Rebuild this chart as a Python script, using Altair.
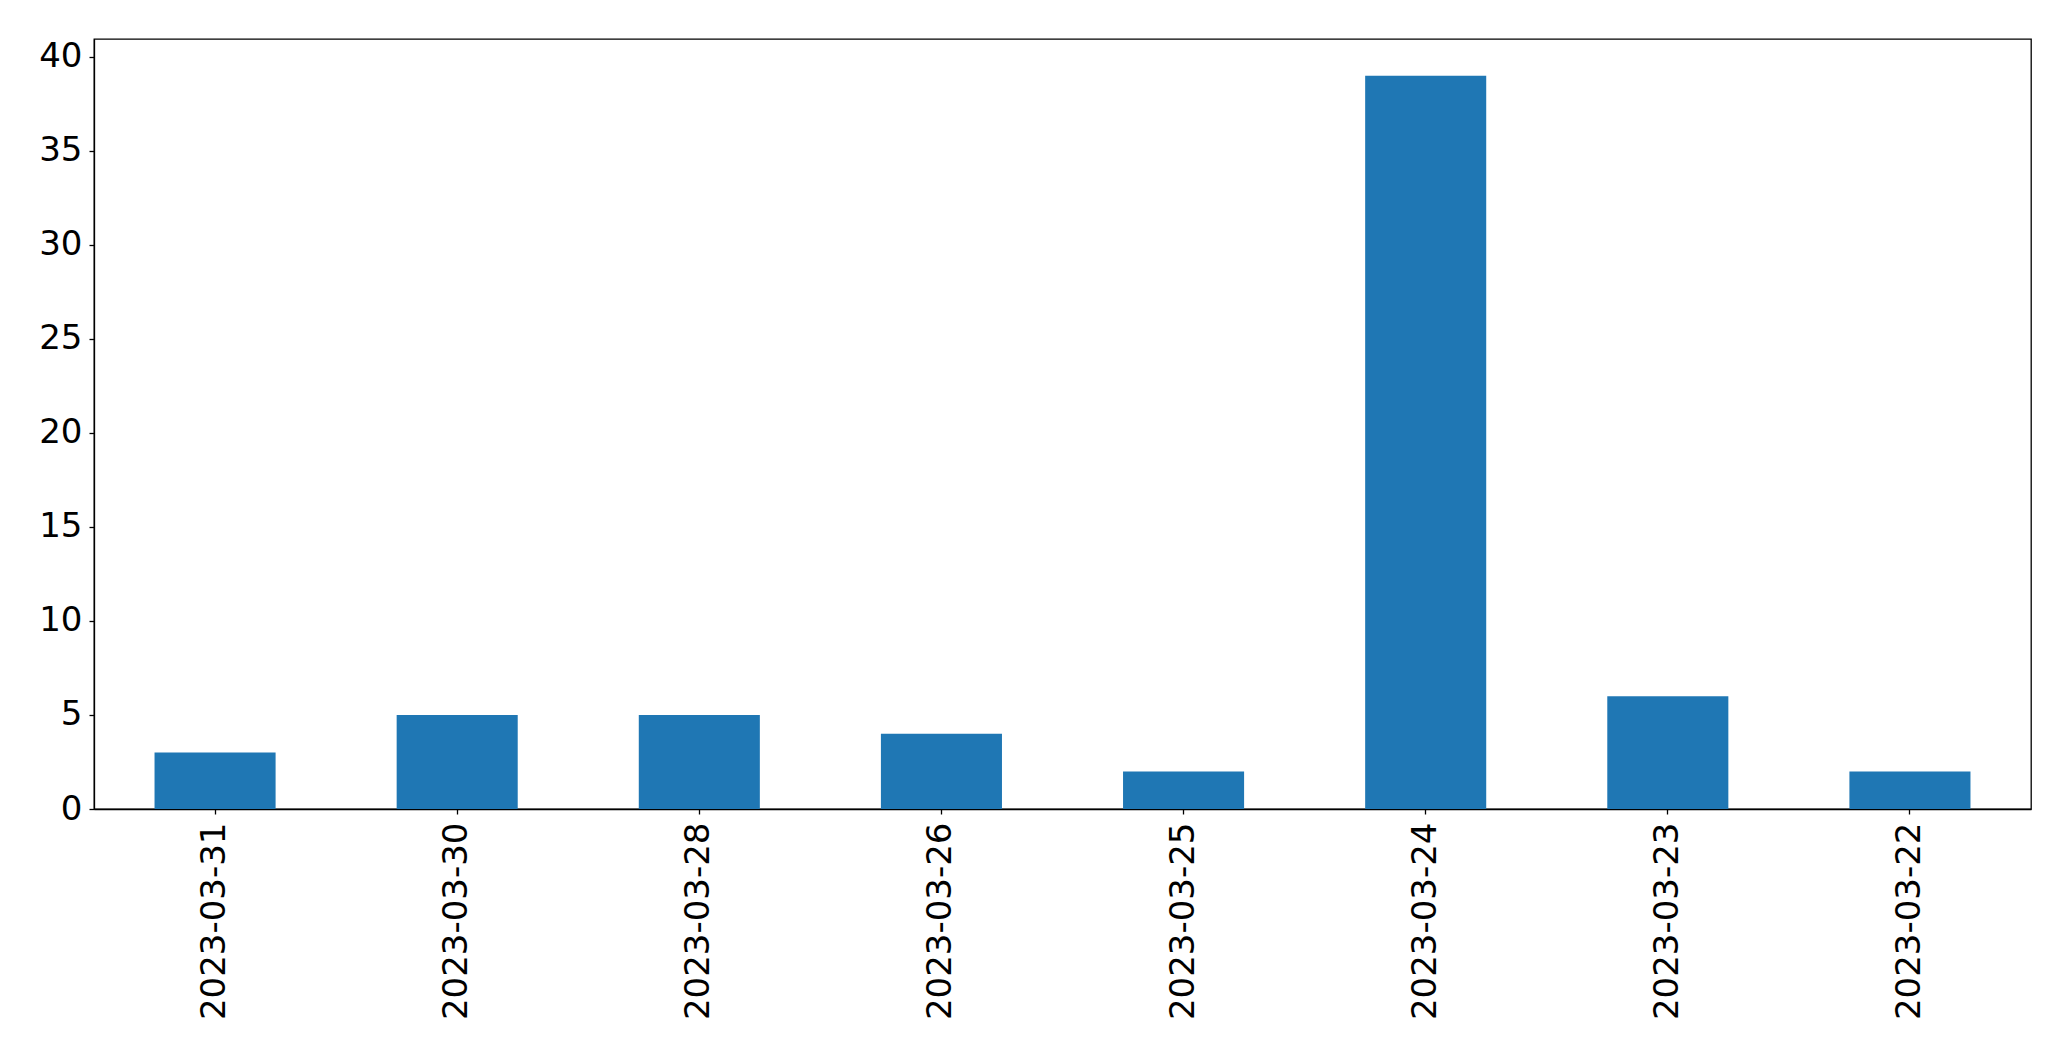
import altair as alt
import pandas as pd

dates = ["2023-03-31", "2023-03-30", "2023-03-28", "2023-03-26",
         "2023-03-25", "2023-03-24", "2023-03-23", "2023-03-22"]
counts = [3, 5, 5, 4, 2, 39, 6, 2]

df = pd.DataFrame({"date": dates, "count": counts})

chart = alt.Chart(df).mark_bar(color="#1f77b4").encode(
    x=alt.X("date:N", sort=dates, title=None,
            scale=alt.Scale(paddingInner=0.5, paddingOuter=0.25),
            axis=alt.Axis(labelAngle=270, labelFontSize=34, labelFont="DejaVu Sans",
                          labelColor="black", tickColor="black", tickSize=5,
                          tickWidth=1.3, domainColor="black", domainWidth=1.3,
                          labelPadding=8, labelAlign="right", labelBaseline="middle",
                          labelOverlap=False, labelLimit=400)),
    y=alt.Y("count:Q", title=None,
            scale=alt.Scale(domain=[0, 40.95], nice=False),
            axis=alt.Axis(values=[0, 5, 10, 15, 20, 25, 30, 35, 40], grid=False,
                          labelFontSize=34, labelFont="DejaVu Sans",
                          labelColor="black", tickColor="black", tickSize=5,
                          tickWidth=1.3, domainColor="black", domainWidth=1.3,
                          labelPadding=7, labelOverlap=False)),
).properties(
    width=1937, height=770,
    autosize=alt.AutoSizeParams(type="none"),
    padding={"left": 86, "top": 31, "right": 20, "bottom": 230},
).configure_view(stroke="black", strokeWidth=1.3)

chart.save("out.html", embed_options={"renderer": "svg", "actions": False})
